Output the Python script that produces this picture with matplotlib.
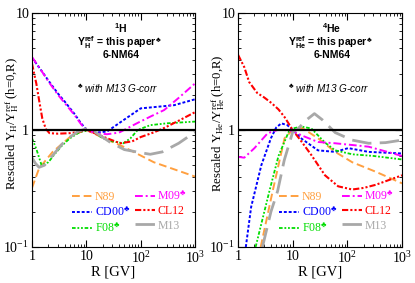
import matplotlib
matplotlib.use('Agg')
import matplotlib.pyplot as plt

plt.rcParams['font.family'] = ['Liberation Serif', 'DejaVu Sans']
plt.rcParams['mathtext.fontset'] = 'custom'
plt.rcParams['mathtext.rm'] = 'Liberation Serif'
plt.rcParams['mathtext.it'] = 'Liberation Serif:italic'
plt.rcParams['mathtext.bf'] = 'Liberation Sans:bold'
plt.rcParams['mathtext.sf'] = 'Liberation Sans'

# ---- proton (1H) curves ----
n89_h_r = [1, 1.35, 2.4, 5.6, 10, 20, 48, 175, 1000]
n89_h_y = [0.32, 0.47, 0.65, 0.91, 1.0, 0.86, 0.72, 0.53, 0.40]
cd00_h_r = [1, 1.5, 2, 3, 4, 6, 8, 10, 15, 24, 49, 100, 414, 1000]
cd00_h_y = [4.15, 3.2, 2.65, 2.05, 1.75, 1.38, 1.14, 1.01, 0.95, 0.97, 1.22, 1.53, 1.63, 1.83]
f08_h_r = [1, 1.2, 1.5, 2, 2.6, 3.6, 5, 7.6, 12, 20, 30, 48, 65, 88, 150, 300, 1000]
f08_h_y = [0.85, 0.69, 0.5, 0.53, 0.62, 0.74, 0.85, 0.96, 1.0, 0.85, 0.8, 0.77, 0.85, 1.0, 1.1, 1.14, 1.18]
m09_h_r = [1, 1.5, 2, 3, 4, 6, 8, 10, 15, 24, 40, 88, 150, 270, 500, 1000]
m09_h_y = [4.2, 3.2, 2.6, 2.0, 1.7, 1.35, 1.12, 1.0, 0.94, 0.92, 0.95, 1.15, 1.3, 1.48, 1.88, 2.5]
cl12_h_r = [1, 1.1, 1.2, 1.35, 1.55, 1.8, 2.1, 3, 5, 7, 10, 15, 24, 42, 70, 100, 170, 270, 500, 1000]
cl12_h_y = [3.7, 3.0, 2.5, 1.8, 1.25, 1.02, 0.94, 0.93, 0.94, 0.96, 1.0, 0.93, 0.85, 0.77, 0.80, 0.87, 0.95, 1.04, 1.2, 1.42]
m13_h_r = [1, 1.15, 1.35, 1.7, 2.5, 3.6, 5, 7, 11, 15, 27, 50, 100, 150, 250, 500, 1000]
m13_h_y = [0.58, 0.52, 0.48, 0.5, 0.62, 0.76, 0.87, 0.97, 1.04, 0.95, 0.79, 0.68, 0.64, 0.62, 0.65, 0.77, 0.96]

# ---- helium (4He) curves ----
n89_he_r = [2.6, 4.3, 7.1, 10, 15, 29, 60, 123, 330, 1000]
n89_he_y = [0.1, 0.3, 0.85, 1.0, 1.04, 0.85, 0.65, 0.53, 0.44, 0.35]
cd00_he_r = [1.39, 1.74, 2.67, 4.0, 5.0, 6.2, 8, 10, 14.7, 29, 60, 104, 245, 1000]
cd00_he_y = [0.1, 0.22, 0.5, 0.85, 1.05, 1.14, 1.1, 1.0, 0.84, 0.67, 0.65, 0.70, 0.65, 0.63]
f08_he_r = [2.1, 3.75, 5.5, 8.5, 10, 14.5, 22, 39, 60, 123, 300, 1000]
f08_he_y = [0.1, 0.3, 0.6, 0.97, 1.03, 1.07, 1.03, 0.78, 0.67, 0.62, 0.6, 0.56]
m09_he_r = [1, 1.3, 2, 3.5, 5.3, 7, 10, 14.5, 29, 60, 245, 1000]
m09_he_y = [0.59, 0.58, 0.70, 0.94, 1.0, 1.0, 0.98, 0.90, 0.79, 0.77, 0.72, 0.6]
cl12_he_r = [1, 1.3, 1.6, 2.25, 3, 4.1, 5.5, 7.1, 10, 15, 22, 39, 68, 123, 200, 330, 1000]
cl12_he_y = [4.4, 3.45, 2.57, 2.07, 1.9, 1.7, 1.5, 1.29, 1.0, 0.78, 0.61, 0.41, 0.33, 0.31, 0.32, 0.34, 0.41]
m13_he_r = [2.8, 4, 5.3, 7, 10, 12.4, 17.9, 25, 35, 60, 122, 245, 500, 1000]
m13_he_y = [0.1, 0.2, 0.3, 0.55, 0.96, 1.02, 1.22, 1.38, 1.22, 0.95, 0.82, 0.77, 0.78, 0.82]

names = ['N89', r'CD00$^{\clubsuit}$', r'F08$^{\clubsuit}$',
         r'M09$^{\clubsuit}$', 'CL12', 'M13']
colors = ['#ffa040', '#0000ff', '#00dd00', '#ff00ff', '#ff0000', '#a8a8a8']
styles = [(0, (4, 2)), (0, (1.5, 1)), (0, (2, 1, 1, 1, 1, 1)),
          (0, (4, 1.5, 1, 1.5)), (0, (3, 1, 1, 1, 1, 1)), (0, (7, 3))]
widths = [1.4, 1.4, 1.3, 1.4, 1.5, 2.0]

h_data = [(n89_h_r, n89_h_y), (cd00_h_r, cd00_h_y), (f08_h_r, f08_h_y),
          (m09_h_r, m09_h_y), (cl12_h_r, cl12_h_y), (m13_h_r, m13_h_y)]
he_data = [(n89_he_r, n89_he_y), (cd00_he_r, cd00_he_y), (f08_he_r, f08_he_y),
           (m09_he_r, m09_he_y), (cl12_he_r, cl12_he_y), (m13_he_r, m13_he_y)]

fig = plt.figure(figsize=(4.15, 2.83), dpi=100)
ax1 = fig.add_axes([0.0771, 0.1272, 0.3928, 0.8269])
ax2 = fig.add_axes([0.5735, 0.1272, 0.3952, 0.8269])

panels = [
    (ax1, h_data, r'$\mathbf{{}^{1}H}$', r'$\mathbf{Y_{H}^{ref}}$ = this paper$^{\clubsuit}$',
     r'Rescaled Y$_{\rm H}$/Y$_{\rm H}^{\rm ref}$ (h=0,R)', 0.546),
    (ax2, he_data, r'$\mathbf{{}^{4}He}$', r'$\mathbf{Y_{He}^{ref}}$ = this paper$^{\clubsuit}$',
     r'Rescaled Y$_{\rm He}$/Y$_{\rm He}^{\rm ref}$ (h=0,R)', 0.573),
]

for ax, data, title, yref, ylab, xc in panels:
    for (r, y), nm, c, ls, lw in zip(data, names, colors, styles, widths):
        ax.plot(r, y, color=c, ls=ls, lw=lw, label=nm)
    ax.axhline(1, color='k', lw=1.6)
    ax.set_xscale('log')
    ax.set_yscale('log')
    ax.set_xlim(1, 1000)
    ax.set_ylim(0.1, 10)
    ax.set_xticks([1, 10, 100, 1000])
    ax.set_xticklabels(['1', '10', '$10^2$', '$10^3$'])
    ax.set_yticks([0.1, 1, 10])
    ax.set_yticklabels(['$10^{-1}$', '1', '10'])
    ax.tick_params(which='both', direction='in', top=True, right=True, labelsize=10)
    ax.tick_params(which='major', length=5, pad=2)
    ax.tick_params(which='minor', length=2.5)
    ax.set_xlabel('R [GV]', fontsize=10.5, labelpad=0)
    ax.set_ylabel(ylab, fontsize=9.2)
    ax.yaxis.set_label_coords(-0.07, 0.53)

    ax.text(xc, 0.935, title, transform=ax.transAxes, ha='center', va='center',
            fontsize=7.5, family='Liberation Sans', weight='bold')
    ax.text(xc - 0.01, 0.874, yref, transform=ax.transAxes, ha='center', va='center',
            fontsize=7.5, family='Liberation Sans', weight='bold')
    ax.text(xc, 0.82, '6-NM64', transform=ax.transAxes, ha='center', va='center',
            fontsize=7.5, family='Liberation Sans', weight='bold')
    ax.text(xc - 0.02, 0.679, r'$^{\clubsuit}$ with M13 G-corr', transform=ax.transAxes,
            ha='center', va='center', fontsize=7.2, family='Liberation Sans', style='italic')

    ax.legend(loc='lower right', bbox_to_anchor=(1.0, 0.015), ncol=2, frameon=False,
              fontsize=8.5, labelcolor='linecolor', handlelength=1.7, handletextpad=0.2,
              columnspacing=0.4, labelspacing=0.2, borderaxespad=0.3)

fig.savefig('out.png', dpi=100)
